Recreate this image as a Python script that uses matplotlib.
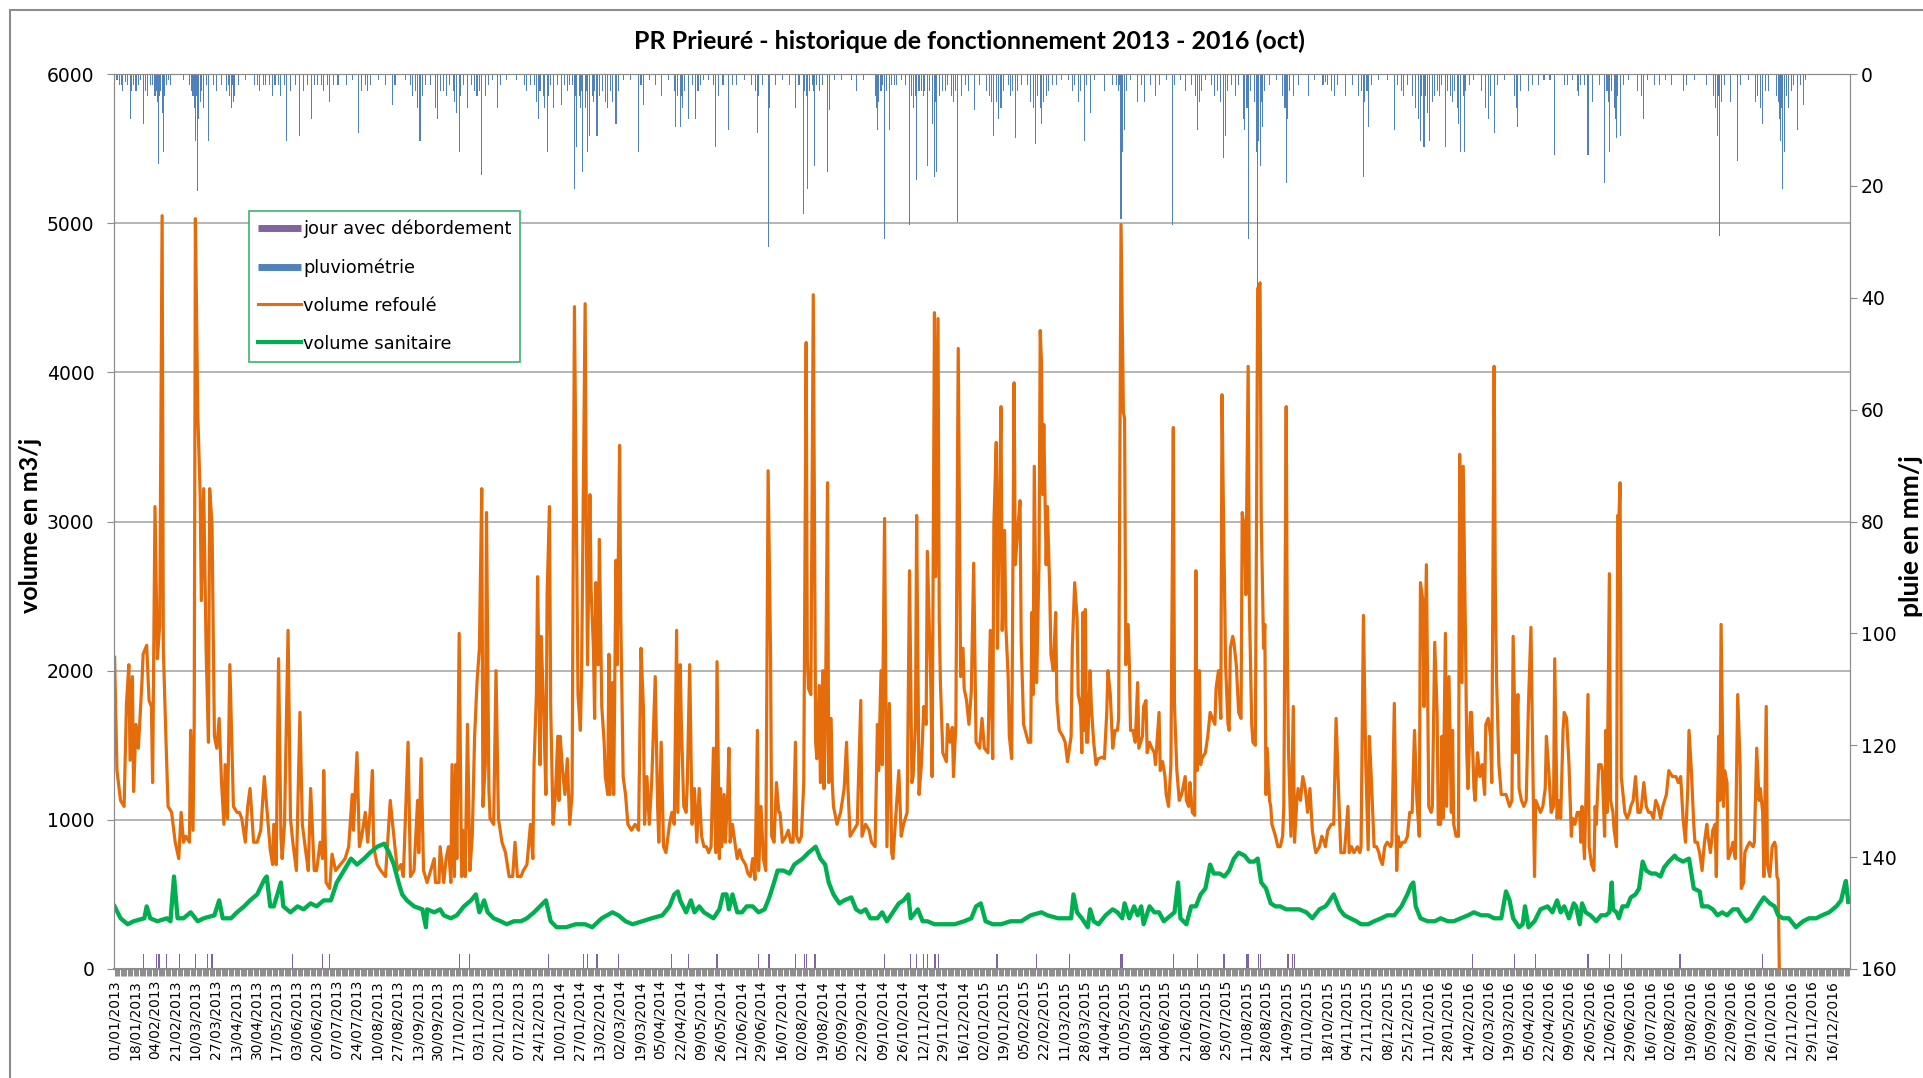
import datetime as dt
import matplotlib
matplotlib.use('Agg')
import matplotlib.pyplot as plt
from matplotlib.lines import Line2D

# jour = nombre de jours depuis le 01/01/2013
debut = dt.date(2013, 1, 1)
nb_jours = 1461

# volume refoulé (m3/j) : (jour, valeur)
refoule = [
    (0, 2090), (2, 1330), (5, 1130), (8, 1090), (10, 1780), (12, 2040), (13, 1400), (15, 1960), (16, 1190),
    (18, 1640), (20, 1480), (23, 1920), (24, 2110), (27, 2170), (29, 1800), (31, 1760), (32, 1250), (34, 3100),
    (36, 2080), (38, 2310), (40, 5050), (41, 2150), (43, 1600), (45, 1090), (48, 1050), (51, 850), (54, 740),
    (56, 1050), (58, 850), (60, 890), (63, 850), (64, 1600), (66, 930), (67, 1640), (68, 5030), (70, 3730),
    (72, 3180), (73, 2470), (75, 3220), (77, 2150), (79, 1520), (80, 3220), (82, 2980), (84, 1560), (86, 1480),
    (88, 1680), (90, 1250), (92, 970), (93, 1370), (95, 1010), (97, 2040), (100, 1090), (103, 1050), (105, 1050),
    (107, 1010), (110, 850), (112, 1090), (114, 1210), (117, 850), (120, 850), (123, 930), (126, 1290), (128, 1090),
    (131, 800), (133, 700), (134, 970), (136, 700), (138, 2080), (140, 890), (141, 740), (143, 970), (146, 2270),
    (148, 1010), (150, 850), (153, 660), (156, 1720), (158, 970), (161, 780), (163, 660), (165, 1210), (168, 660),
    (170, 660), (173, 850), (175, 740), (176, 1330), (178, 580), (181, 540), (183, 770), (186, 660),
    (190, 700), (194, 740), (197, 820), (200, 1170), (201, 930), (204, 1450), (206, 820), (208, 890), (211, 1050),
    (213, 850), (215, 1050), (217, 1330), (218, 820), (221, 700), (224, 660), (228, 620), (232, 1130), (234, 970),
    (238, 660), (241, 700), (243, 620), (247, 1520), (249, 620), (252, 660), (255, 1130), (256, 780), (258, 1410),
    (260, 660), (263, 580), (266, 660), (269, 740), (270, 580), (273, 580), (274, 820), (277, 580), (279, 740),
    (281, 820), (283, 580), (284, 1370), (286, 620), (287, 1370), (288, 740), (290, 2250), (292, 620), (293, 930),
    (295, 620), (297, 1640), (299, 660), (301, 890), (303, 1560), (305, 1920), (307, 2150), (309, 3220), (310, 1090),
    (312, 1370), (313, 3060), (315, 1210), (316, 1010), (319, 970), (321, 2000), (323, 1010), (326, 850), (329, 780),
    (332, 620), (335, 620), (337, 850), (339, 620), (342, 620), (344, 660), (347, 700), (350, 970), (352, 740),
    (353, 1370), (355, 1840), (356, 2630), (358, 1370), (359, 2230), (361, 1760), (363, 1170), (364, 2510),
    (366, 3100), (367, 1760), (369, 970), (371, 1170),
    (373, 1560), (374, 1130), (375, 1560), (377, 1330), (379, 1170), (381, 1410), (383, 970), (385, 1170),
    (387, 4440), (389, 2740), (390, 1840), (392, 1600), (393, 1960), (396, 4460), (397, 3020), (398, 2040),
    (400, 3180), (401, 2550), (403, 2150), (404, 1680), (405, 2590), (407, 2040), (408, 2880), (410, 1760),
    (412, 1520), (413, 1290), (415, 1170), (416, 2110), (417, 1170), (419, 1920), (420, 1170), (422, 2740),
    (423, 2040), (425, 3510), (426, 2350), (428, 1290), (430, 1170), (432, 970), (435, 930), (438, 970), (441, 930),
    (443, 2150), (445, 1760), (446, 970), (448, 1290), (450, 970), (452, 1250), (455, 1960), (457, 1090), (458, 850),
    (460, 1520), (462, 820), (464, 780), (467, 970), (469, 1050), (471, 970), (473, 2270), (474, 1050), (476, 2040),
    (477, 1640), (479, 1090), (481, 1050), (482, 1250), (484, 2040), (486, 970), (488, 1210), (490, 850), (492, 1210),
    (494, 890), (496, 820), (498, 820), (500, 780), (502, 820), (504, 1480), (506, 780), (507, 2060), (509, 740),
    (510, 1210), (511, 820), (513, 1170), (514, 850), (516, 1170), (517, 1480), (518, 850), (520, 970), (522, 850),
    (524, 740), (526, 800), (528, 740), (531, 700), (533, 640), (535, 620), (537, 740), (539, 600), (541, 1600),
    (542, 660), (544, 1090), (546, 740), (548, 660), (550, 3340), (552, 2150), (553, 890), (555, 850), (557, 1250),
    (559, 1050), (560, 1050), (562, 850), (565, 890), (567, 930), (569, 850), (571, 850), (573, 1520), (574, 890),
    (576, 850), (578, 890), (580, 1250), (582, 4200), (583, 2080), (584, 1880), (586, 1840), (588, 4520),
    (590, 1520), (591, 1410), (593, 1900), (594, 1250), (596, 2000), (597, 1210), (598, 1520), (600, 3260),
    (601, 1250), (603, 1680), (604, 1250), (605, 1090), (608, 970), (611, 1050), (614, 1210), (616, 1520),
    (617, 1250), (619, 890), (622, 930), (625, 970), (628, 1800), (629, 890), (632, 970), (635, 930), (637, 850),
    (640, 820), (642, 1640), (643, 1330), (645, 2000), (646, 1370), (648, 3020), (650, 820), (652, 1780), (654, 780),
    (655, 740), (657, 970), (660, 1330), (662, 890), (664, 970), (667, 1050), (669, 2670), (671, 1250), (672, 1290),
    (674, 1640), (675, 3040), (677, 1170), (679, 1370), (681, 1760), (683, 1640), (684, 2800), (687, 1880),
    (688, 1290), (690, 4400), (691, 2630), (693, 4360), (694, 2350), (695, 1920), (697, 1450), (700, 1390),
    (701, 1640), (703, 1520), (705, 1620), (706, 1290), (708, 1640), (710, 4160), (712, 1960), (714, 2150),
    (715, 1880), (717, 1800), (719, 1640), (721, 1860), (723, 2720), (725, 1520), (728, 1480), (730, 1680),
    (732, 1480), (735, 1450), (737, 2270), (739, 1410), (740, 2980), (742, 3530), (743, 2150), (744, 2740),
    (746, 3770), (747, 2270), (749, 2940), (750, 2310), (752, 1960), (753, 1560), (755, 1410), (757, 3930),
    (758, 2710), (760, 2940), (762, 3140), (763, 2190), (765, 1640), (767, 1580), (769, 1520), (771, 1520),
    (772, 2390), (773, 1840), (774, 3370), (776, 1920), (778, 2740), (779, 4280), (780, 4080), (781, 3180),
    (782, 3650), (784, 2710), (785, 3100), (787, 2550), (788, 2110), (790, 2000), (792, 2390), (793, 1800),
    (795, 1600), (798, 1560), (800, 1520), (802, 1390), (805, 1560),
    (806, 2150), (808, 2590), (810, 2350), (811, 1840), (813, 1760), (814, 1450), (815, 2390), (816, 1600),
    (817, 2410), (818, 1520), (819, 1520), (821, 2000), (822, 1760), (824, 1520), (826, 1370), (828, 1410),
    (831, 1420), (833, 1410), (835, 1720), (836, 2000), (838, 1840), (840, 1480), (842, 1600), (844, 1600),
    (845, 1680), (847, 4990), (849, 3730), (850, 3690), (851, 2040), (853, 2310), (854, 2040), (855, 1600),
    (857, 1600), (859, 1520), (861, 1920), (862, 1480), (865, 1560), (866, 1760), (868, 1800), (869, 1450),
    (871, 1520), (873, 1480), (875, 1450), (876, 1370), (879, 1720), (880, 1330), (882, 1390), (884, 1290),
    (885, 1170), (887, 1090), (889, 1370), (891, 3630), (892, 1760), (894, 1330), (896, 1130), (898, 1170),
    (901, 1290), (902, 1130), (904, 1090), (905, 1250), (907, 1050), (909, 1030), (910, 2670), (911, 1330),
    (913, 2000), (914, 1370), (915, 1410), (918, 1450), (920, 1560), (922, 1720), (924, 1680), (926, 1640),
    (927, 1880), (929, 2000), (931, 1680), (932, 3850), (933, 3180), (935, 2040), (937, 1640), (938, 1600),
    (939, 2150), (941, 2230), (942, 2190), (944, 2040), (946, 1720), (948, 1680), (949, 3060), (951, 2940),
    (952, 2510), (954, 4040), (955, 2450), (957, 1640), (958, 1520), (960, 1500), (961, 2940), (962, 4560),
    (964, 4600), (965, 3020), (967, 2150), (968, 2310), (969, 1170), (970, 1480), (972, 1130), (973, 1090),
    (974, 970), (977, 890), (979, 820), (981, 820), (983, 890), (984, 1090), (986, 3770), (987, 2080), (988, 1450),
    (990, 890), (992, 1760), (993, 850), (995, 1130), (996, 1210), (998, 1130), (1000, 1290), (1002, 1210),
    (1004, 1050), (1006, 1210), (1008, 930), (1010, 820), (1011, 780), (1014, 820), (1016, 890), (1018, 850),
    (1019, 820), (1021, 930), (1024, 970), (1026, 970), (1028, 1680), (1030, 1210), (1032, 780), (1033, 780),
    (1035, 780), (1038, 1090), (1039, 780), (1041, 820), (1043, 780), (1046, 820), (1048, 780), (1049, 820),
    (1051, 2370), (1053, 1370), (1055, 800), (1056, 1560), (1058, 1210), (1060, 820), (1062, 820), (1064, 780),
    (1065, 740), (1067, 700), (1069, 820), (1071, 850), (1074, 820), (1075, 850), (1077, 1780), (1079, 660),
    (1080, 890), (1082, 820), (1084, 850), (1086, 850), (1088, 890), (1090, 1050), (1092, 1050), (1094, 1600),
    (1096, 1130), (1098, 890), (1099, 2590), (1101, 2470), (1102, 1760), (1104, 2710), (1105, 1920), (1106, 1090),
    (1108, 1050), (1109, 1090), (1111, 2190), (1113, 1720), (1114, 970), (1116, 970), (1117, 1560), (1118, 1010),
    (1120, 2250), (1121, 1090), (1123, 1960), (1125, 1050), (1126, 1600), (1127, 970), (1129, 890), (1131, 890),
    (1132, 3450), (1134, 1920), (1135, 3370), (1137, 2150), (1138, 1450), (1139, 1210), (1141, 1720), (1142, 1720),
    (1144, 1210), (1145, 1130), (1147, 1450), (1148, 1370), (1149, 1290), (1151, 1370), (1153, 1170), (1154, 1640),
    (1156, 1680), (1158, 1560), (1159, 1250), (1161, 4040), (1162, 2550), (1163, 1960), (1165, 1370), (1167, 1170),
    (1170, 1170), (1171, 1170), (1174, 1090), (1176, 1130), (1177, 2230), (1179, 1450), (1181, 1840), (1182, 1210),
    (1184, 1130), (1186, 1090), (1188, 1130), (1190, 1800), (1192, 2290), (1194, 1130), (1195, 620), (1196, 1130),
    (1198, 1090), (1200, 1050), (1202, 1090), (1204, 1210), (1205, 1560), (1207, 1330), (1209, 1050), (1211, 1090),
    (1212, 2080), (1214, 1010), (1215, 1130), (1217, 1010), (1219, 1600), (1220, 1720), (1222, 1680), (1224, 1370),
    (1226, 890), (1227, 1010), (1229, 970), (1231, 1050),
    (1233, 1050), (1234, 850), (1235, 1090), (1237, 740), (1238, 1050), (1240, 1840), (1241, 820), (1243, 700),
    (1245, 660), (1246, 1090), (1247, 970), (1249, 1370), (1251, 1370), (1252, 1330), (1254, 890), (1255, 1600),
    (1256, 1050), (1258, 2650), (1259, 1130), (1261, 1050), (1262, 930), (1264, 820), (1265, 3040), (1266, 3020),
    (1267, 3260), (1268, 1290), (1270, 1130), (1271, 1050), (1273, 1010), (1275, 1050), (1276, 1090), (1278, 1130),
    (1280, 1290), (1282, 1050), (1284, 1050), (1285, 1090), (1287, 1250), (1289, 1090), (1291, 1050), (1293, 1050),
    (1295, 1010), (1297, 1130), (1299, 1090), (1301, 1010), (1303, 1090), (1306, 1170), (1308, 1330), (1311, 1290),
    (1314, 1290), (1316, 1250), (1318, 1290), (1320, 1010), (1322, 850), (1324, 1210), (1325, 1600), (1327, 1330),
    (1329, 970), (1330, 850), (1332, 850), (1334, 780), (1336, 660), (1338, 850), (1340, 970), (1341, 890),
    (1343, 780), (1345, 930), (1347, 970), (1348, 620), (1350, 1560), (1351, 1130), (1352, 2310), (1354, 1090),
    (1355, 1330), (1357, 1250), (1358, 740), (1360, 780), (1362, 850), (1364, 740), (1366, 1840), (1368, 1370),
    (1369, 540), (1371, 580), (1372, 780), (1374, 820), (1376, 850), (1379, 820), (1380, 850), (1382, 1480),
    (1384, 1130), (1385, 1210), (1387, 1050), (1388, 620), (1390, 1760), (1391, 700), (1393, 620), (1395, 820),
    (1397, 850), (1398, 820), (1399, 620), (1400, 600), (1401, 0),
]

# volume sanitaire (m3/j) : (jour, valeur)
sanitaire = [
    (0, 420), (5, 340), (11, 300), (16, 320), (25, 340), (27, 420), (30, 340), (36, 320), (44, 340), (47, 320),
    (50, 620), (53, 340), (58, 340), (64, 380), (70, 320), (75, 340), (84, 360), (88, 460), (91, 340), (98, 340),
    (103, 380), (109, 420), (114, 460), (120, 500), (126, 600), (128, 620), (131, 420), (134, 420), (140, 580),
    (142, 420), (148, 380), (154, 420), (159, 400), (165, 440), (170, 420), (176, 460), (182, 460), (187, 580),
    (193, 660), (199, 740), (204, 700), (210, 740), (215, 780), (221, 820), (227, 840), (231, 780), (235, 700),
    (239, 580), (242, 500), (246, 460), (252, 420), (259, 400), (262, 280), (263, 400), (269, 380), (274, 400),
    (277, 360), (283, 340), (288, 360), (294, 420), (300, 460), (304, 500), (307, 380), (311, 460), (314, 380),
    (319, 340), (325, 320), (330, 300), (336, 320), (342, 320), (347, 340), (353, 380), (358, 420), (363, 460),
    (367, 320), (372, 280), (380, 280), (388, 300), (396, 300), (402, 280), (410, 340), (419, 380), (424, 360),
    (430, 320), (436, 300), (444, 320), (452, 340), (461, 360), (467, 420), (471, 500), (474, 520), (476, 460),
    (481, 380), (485, 460), (488, 380), (492, 420), (496, 380), (500, 360), (504, 340), (509, 400), (512, 500),
    (515, 500), (517, 400), (520, 500), (524, 380), (528, 380), (532, 420), (537, 420), (542, 380), (547, 400),
    (551, 480), (555, 580), (558, 660), (563, 660), (568, 640), (572, 700), (579, 740), (584, 780), (590, 820),
    (594, 740), (598, 700), (601, 580), (605, 500), (610, 440), (614, 460), (620, 480), (624, 400), (628, 380),
    (632, 400), (636, 340), (642, 340), (646, 380), (650, 320), (655, 380), (660, 440), (664, 460), (668, 500),
    (670, 340), (676, 400), (680, 320), (684, 320), (690, 300), (698, 300), (707, 300), (715, 320), (721, 340),
    (725, 420), (729, 440), (733, 320), (739, 300), (746, 300), (754, 320), (763, 320), (771, 360), (780, 380),
    (785, 360), (794, 340), (799, 340), (805, 340), (807, 500), (810, 380), (814, 340), (819, 280), (821, 400),
    (824, 320), (828, 300), (834, 360), (840, 400), (844, 380), (848, 340), (850, 440), (854, 340), (858, 420),
    (861, 360), (864, 420), (866, 300), (871, 420), (875, 380), (879, 380), (883, 320), (889, 360), (892, 380),
    (895, 580), (897, 340), (902, 300), (906, 420), (910, 420), (914, 500), (918, 540), (922, 700), (925, 640),
    (930, 640), (934, 620), (938, 660), (942, 740), (946, 780), (951, 760), (955, 720), (959, 720), (962, 740),
    (965, 580), (969, 540), (973, 440), (977, 420), (981, 420), (986, 400), (991, 400), (997, 400), (1003, 380),
    (1008, 340), (1014, 400), (1019, 420), (1021, 440), (1026, 500), (1031, 400), (1035, 360), (1040, 340),
    (1045, 320), (1049, 300), (1055, 300), (1060, 320), (1066, 340), (1071, 360), (1077, 360), (1083, 420),
    (1088, 500), (1091, 560), (1093, 580), (1095, 420), (1099, 340), (1105, 320), (1111, 320), (1116, 340),
    (1122, 320), (1127, 320), (1133, 340), (1139, 360), (1144, 380), (1150, 360), (1156, 360), (1161, 340),
    (1167, 340), (1171, 520), (1174, 460), (1177, 340), (1182, 280), (1185, 300), (1187, 420), (1190, 280),
    (1195, 320), (1200, 400), (1206, 420), (1210, 380), (1214, 460), (1217, 380), (1220, 420), (1224, 340),
    (1228, 440), (1230, 420), (1233, 300), (1235, 440), (1238, 380), (1242, 360), (1247, 320), (1251, 360),
    (1255, 360), (1258, 380), (1260, 580), (1261, 400), (1264, 380), (1266, 340), (1269, 420), (1273, 420),
    (1276, 480), (1280, 500), (1283, 540), (1286, 720), (1289, 660), (1293, 640), (1297, 640), (1301, 620),
    (1304, 680), (1308, 720), (1313, 760), (1315, 740), (1320, 720), (1325, 740), (1329, 540), (1334, 520),
    (1336, 420), (1341, 420), (1345, 400), (1349, 360), (1353, 380), (1357, 360), (1362, 400), (1366, 400),
    (1369, 360), (1373, 320), (1377, 340), (1383, 420), (1388, 480), (1393, 440), (1397, 420), (1400, 360),
    (1404, 340), (1409, 340), (1415, 280), (1421, 320), (1426, 340), (1432, 340), (1437, 360), (1443, 380),
    (1449, 420), (1453, 460), (1456, 560), (1457, 590), (1459, 450),
]

# pluviométrie (mm/j) : (jour, pluie)
pluie = [
    (2, 1), (4, 2), (6, 2), (7, 3), (9, 1.5), (11, 2), (13, 8), (14, 3), (16, 2), (18, 3), (20, 2), (22, 1),
    (24, 9), (26, 3), (28, 4), (30, 2), (32, 2), (34, 4), (35, 3), (36, 5), (37, 16), (38, 4), (39, 3), (40, 7),
    (41, 14), (42, 4), (44, 2), (45, 1), (47, 2), (58, 1), (63, 2), (65, 3), (66, 4), (67, 6), (68, 12), (69, 4),
    (70, 21), (71, 8), (72, 5), (73, 3), (75, 6), (77, 2), (79, 12), (83, 2), (86, 3), (90, 2), (94, 3), (96, 2),
    (97, 4), (98, 6), (99, 2), (100, 5), (101, 4), (104, 2), (110, 1), (118, 2), (120, 2), (122, 3), (125, 2),
    (127, 2), (130, 2), (133, 4), (135, 2), (138, 2), (140, 4), (143, 2), (145, 12), (148, 3), (152, 2), (156, 11),
    (159, 3), (162, 2), (166, 8), (168, 2), (171, 2), (174, 2), (176, 3), (179, 2), (181, 5), (184, 2),
    (188, 2), (195, 2), (200, 1), (205, 10.5), (208, 3), (211, 2), (213, 3), (215, 2), (222, 1), (228, 2),
    (234, 5.5), (236, 2), (245, 1), (249, 2), (251, 4), (253, 3), (255, 6), (257, 12), (259, 4), (262, 2),
    (266, 2), (270, 6), (272, 8), (274, 3), (277, 3), (279, 4), (282, 2), (285, 3), (286, 5), (288, 7), (290, 14),
    (291, 4), (294, 2), (297, 6), (300, 2), (303, 3), (305, 4), (307, 3), (309, 18), (312, 4), (315, 2), (318, 1),
    (322, 6), (325, 2), (330, 1), (338, 1), (345, 2), (347, 3), (350, 2), (353, 2), (355, 5), (357, 8), (358, 3),
    (361, 4), (362, 6), (364, 14), (365, 4), (367, 2), (369, 6),
    (373, 2), (376, 5.5), (379, 2), (381, 3), (383, 2), (385, 2), (387, 20.5), (388, 4), (389, 13), (391, 4),
    (392, 6), (393, 3), (394, 17.5), (396, 6), (397, 3), (398, 14), (400, 11), (402, 4), (403, 5), (404, 3),
    (406, 11), (408, 4), (411, 3), (413, 5), (415, 6), (417, 3), (419, 5), (422, 9), (424, 3), (428, 1), (434, 1),
    (441, 14), (443, 2), (445, 5.5), (450, 1), (455, 2), (460, 4), (466, 1), (471, 3), (472, 9.5), (474, 4),
    (476, 9.5), (477, 4), (478, 6), (480, 3), (483, 8), (486, 2), (489, 8), (491, 3), (493, 2), (496, 1), (500, 1),
    (504, 2), (506, 13), (508, 4), (512, 2), (517, 10), (520, 2), (523, 2), (530, 1), (536, 2), (539, 3),
    (541, 10.5), (542, 4), (545, 2), (550, 31), (551, 6), (556, 2), (562, 1), (568, 2), (573, 6), (576, 2),
    (580, 25), (581, 3), (582, 4), (583, 20.5), (585, 3), (587, 2),
    (588, 3), (589, 16.5), (591, 2), (593, 3), (596, 2), (600, 17.5), (602, 6.5), (606, 1), (612, 1), (620, 1),
    (624, 3), (630, 1), (640, 4), (641, 6), (642, 10), (643, 5), (645, 3), (646, 2), (648, 29.5), (650, 3),
    (652, 10), (654, 2), (656, 2), (658, 2), (662, 1), (666, 2), (669, 27), (671, 4), (672, 6), (674, 4), (675, 19),
    (677, 3), (679, 3), (681, 4), (682, 3), (684, 16.5), (686, 3), (688, 9), (690, 18.5), (691, 5), (692, 17.5),
    (694, 4), (697, 3), (699, 3), (701, 2), (704, 4), (706, 5), (708, 3), (709, 26.5), (713, 4), (716, 2), (719, 3),
    (724, 6.5), (728, 2), (734, 3), (736, 4), (738, 5), (740, 11), (742, 5), (744, 8), (746, 6), (748, 3), (752, 2),
    (754, 4), (756, 3), (758, 11.5), (760, 3), (763, 2), (768, 2), (771, 5), (773, 6), (775, 12.5), (777, 4),
    (779, 6), (780, 9), (782, 5), (784, 4), (786, 3), (789, 2), (793, 2), (797, 1),
    (803, 1), (806, 3), (808, 2), (811, 5), (813, 3), (816, 12), (818, 2), (821, 7), (825, 1), (833, 3), (840, 2),
    (843, 2), (845, 3), (846, 2), (847, 26), (848, 14), (850, 10), (852, 3), (855, 1), (861, 5), (864, 2), (867, 5),
    (872, 2), (876, 4), (879, 2), (885, 1), (890, 27), (892, 2), (897, 1), (901, 3), (906, 2), (910, 4), (911, 10),
    (913, 5), (915, 3), (918, 1), (923, 2), (926, 4), (928, 3), (931, 5), (933, 15), (935, 11), (937, 3), (940, 2),
    (943, 4), (946, 2), (950, 8), (951, 10), (953, 6), (954, 29.5), (956, 3), (959, 5), (961, 14), (962, 38),
    (963, 12), (964, 16.5), (965, 5), (966, 9.5), (968, 3), (972, 2), (978, 1), (983, 4), (985, 6), (986, 19.5),
    (987, 8), (989, 3), (992, 4), (996, 2), (1005, 4), (1010, 1),
    (1017, 2), (1019, 1.5), (1021, 2), (1024, 3), (1027, 4), (1029, 2), (1036, 4), (1042, 2), (1047, 4), (1049, 3),
    (1051, 18.5), (1052, 5), (1054, 3), (1055, 9.5), (1058, 2), (1064, 1), (1071, 1), (1077, 10), (1080, 2),
    (1083, 3), (1085, 4), (1088, 2), (1092, 4), (1095, 6), (1097, 8), (1099, 12), (1100, 4), (1102, 13), (1103, 4),
    (1105, 7), (1107, 12), (1109, 5), (1111, 4), (1113, 3), (1115, 4), (1117, 2), (1120, 13), (1122, 3), (1124, 4),
    (1126, 5), (1128, 3), (1130, 6), (1131, 9), (1133, 14), (1135, 4), (1136, 14), (1137, 3), (1140, 2), (1144, 1),
    (1150, 3), (1154, 6), (1156, 8), (1158, 4), (1161, 10.5), (1164, 2), (1170, 1), (1178, 4), (1180, 6),
    (1181, 9.5), (1183, 3), (1190, 3), (1193, 2), (1198, 2), (1203, 1), (1208, 1), (1212, 14.5), (1220, 2),
    (1223, 2), (1227, 1),
    (1231, 3), (1232, 4), (1234, 2), (1237, 2), (1240, 14.5), (1244, 5), (1250, 2), (1254, 19.5), (1256, 3),
    (1257, 5), (1258, 14), (1260, 3), (1262, 6), (1263, 8), (1264, 11.5), (1265, 4), (1267, 11), (1270, 2),
    (1274, 1), (1282, 3), (1285, 4), (1287, 8), (1290, 1), (1296, 2), (1300, 2), (1305, 1), (1310, 2), (1320, 3),
    (1323, 2), (1330, 1), (1340, 2), (1346, 4), (1347, 6), (1349, 11), (1350, 4), (1351, 29), (1352, 5), (1355, 2),
    (1360, 5), (1366, 15.5), (1368, 2), (1375, 1), (1381, 5), (1383, 4), (1385, 6), (1387, 9), (1389, 3),
    (1392, 3), (1399, 4), (1400, 5), (1401, 8), (1402, 12), (1403, 6), (1404, 20.5), (1405, 14), (1407, 4),
    (1409, 6), (1411, 3), (1413, 2), (1416, 10), (1419, 2), (1421, 5.5), (1423, 1),
]

# jours avec débordement
debordement = [24, 35, 37, 38, 44, 55, 68, 78, 82, 150, 175, 181, 290, 299, 365, 395, 398, 406, 424, 469,
               483, 507, 542, 550, 551, 573, 581, 582, 589, 590, 648, 670, 675, 681, 684, 690, 691, 693, 742,
               743, 776, 804, 847, 848, 891, 911, 933, 934, 953, 954, 963, 964, 987, 988, 991, 993, 1143, 1178,
               1196, 1240, 1258, 1268, 1317, 1318, 1387]
hauteur_debordement = 100

c_orange = '#E46C0A'
c_vert = '#00B050'
c_bleu = '#4F81BD'
c_violet = '#8064A2'
c_gris = '#8C8C8C'

W, H = 1924, 1078
fig = plt.figure(figsize=(W / 100, H / 100), dpi=100)
ax = fig.add_axes([114 / W, 1 - 969 / H, 1736 / W, 895 / H])

# débordements (barres violettes au pied du graphe)
ax.bar(debordement, [hauteur_debordement] * len(debordement), width=0.9, color=c_violet, zorder=2)

xs, ys = zip(*refoule)
ax.plot(xs, ys, color=c_orange, lw=2.3, solid_joinstyle='round', zorder=3)
xs, ys = zip(*sanitaire)
ax.plot(xs, ys, color=c_vert, lw=3.1, solid_joinstyle='round', zorder=4)

ax.set_xlim(-0.5, nb_jours - 0.5)
ax.set_ylim(0, 6000)
ax.set_yticks(range(0, 6001, 1000))
ax.grid(axis='y', color='#A0A0A0', lw=1.1, zorder=0)
ax.set_axisbelow(True)

pos = list(range(0, nb_jours, 17))
etiquettes = [(debut + dt.timedelta(days=p)).strftime('%d/%m/%Y') for p in pos]
ax.set_xticks(pos)
ax.set_xticklabels(etiquettes, rotation=90, fontsize=10, family='DejaVu Sans')
ax.set_xticks(range(0, nb_jours), minor=True)
ax.tick_params(axis='x', which='both', length=5, width=0.7, color=c_gris, pad=3)
ax.tick_params(axis='y', length=5, color=c_gris, labelsize=13.5, pad=9)
for s in ['left', 'bottom', 'top', 'right']:
    ax.spines[s].set_color(c_gris)
ax.spines['bottom'].set_linewidth(1.5)

# pluie sur l'axe secondaire (inversé)
ax2 = ax.twinx()
xs, ys = zip(*pluie)
ax2.bar(xs, ys, width=0.9, color=c_bleu, zorder=2)
ax2.set_ylim(160, 0)
ax2.set_yticks(range(0, 161, 20))
ax2.tick_params(axis='y', length=5, color=c_gris, labelsize=13.5, pad=3)
for s in ['left', 'bottom', 'top', 'right']:
    ax2.spines[s].set_color(c_gris)

poignees = [
    Line2D([], [], color=c_violet, lw=5, solid_capstyle='butt'),
    Line2D([], [], color=c_bleu, lw=5, solid_capstyle='butt'),
    Line2D([], [], color=c_orange, lw=2.2),
    Line2D([], [], color=c_vert, lw=3),
]
noms = ['jour avec débordement', 'pluviométrie', 'volume refoulé', 'volume sanitaire']
leg = ax2.legend(poignees, noms, loc='upper left', bbox_to_anchor=((249 - 114) / 1736, 1 - (211 - 74) / 895),
                 borderaxespad=0, fontsize=12.8, frameon=True, fancybox=False, framealpha=1,
                 handlelength=2.4, handletextpad=0.15, labelspacing=1.12, borderpad=0.5)
leg.get_frame().set_edgecolor('#3CB371')
leg.get_frame().set_linewidth(1.2)

fig.text(969 / W, 1 - 41 / H, 'PR Prieuré - historique de fonctionnement 2013 - 2016 (oct)',
         ha='center', va='center', fontsize=18, fontweight='bold', family='Lato')
fig.text(31 / W, 1 - 525 / H, 'volume en m3/j', rotation=90, ha='center', va='center',
         fontsize=18, fontweight='bold', family='Lato')
fig.text(1911 / W, 1 - 536 / H, 'pluie en mm/j', rotation=90, ha='center', va='center',
         fontsize=19, fontweight='bold', family='Lato')

# cadre du graphique
fig.add_artist(Line2D([10 / W, 10 / W], [0, 1 - 10 / H], color=c_gris, lw=1.5))
fig.add_artist(Line2D([10 / W, 1], [1 - 10 / H, 1 - 10 / H], color=c_gris, lw=1.5))

fig.savefig('out.png', dpi=100)
